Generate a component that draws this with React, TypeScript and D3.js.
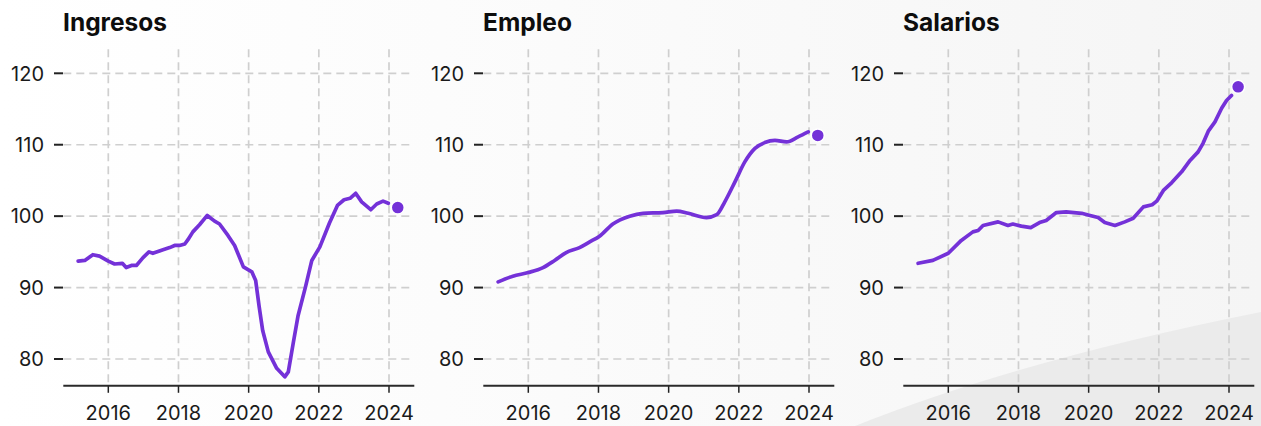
import React from "react";
import * as d3 from "d3";

const panelTitles = ["Ingresos", "Empleo", "Salarios"];
const yTicks = [80, 90, 100, 110, 120];
const xTicks = [2016, 2018, 2020, 2022, 2024];

const ingresos: [number, number][] = [
  [2015.14, 93.7], [2015.33, 93.8], [2015.56, 94.6], [2015.75, 94.4], [2016.0, 93.7],
  [2016.18, 93.3], [2016.4, 93.4], [2016.51, 92.8], [2016.66, 93.1], [2016.8, 93.1],
  [2016.99, 94.2], [2017.16, 95.0], [2017.27, 94.8], [2017.56, 95.3], [2017.75, 95.6],
  [2017.89, 95.9], [2018.03, 95.9], [2018.18, 96.1], [2018.27, 96.7], [2018.41, 97.8],
  [2018.6, 98.8], [2018.82, 100.1], [2019.03, 99.3], [2019.17, 98.9], [2019.41, 97.3],
  [2019.6, 95.9], [2019.85, 92.9], [2020.09, 92.2], [2020.2, 91.0], [2020.3, 87.3],
  [2020.4, 84.0], [2020.56, 81.0], [2020.8, 78.7], [2021.03, 77.5], [2021.13, 78.2],
  [2021.27, 82.2], [2021.41, 86.1], [2021.62, 90.1], [2021.8, 93.8], [2022.03, 95.7],
  [2022.3, 99.0], [2022.53, 101.5], [2022.72, 102.3], [2022.89, 102.5], [2023.05, 103.2],
  [2023.22, 102.0], [2023.48, 100.9], [2023.65, 101.7], [2023.83, 102.1], [2023.98, 101.8],
];

const empleo: [number, number][] = [
  [2015.14, 90.8], [2015.56, 91.6], [2016.0, 92.1], [2016.42, 92.8], [2016.75, 93.8],
  [2017.08, 94.9], [2017.46, 95.6], [2017.75, 96.4], [2018.03, 97.2], [2018.41, 98.9],
  [2018.89, 100.0], [2019.27, 100.4], [2019.84, 100.5], [2020.23, 100.7], [2020.56, 100.4],
  [2021.08, 99.8], [2021.37, 100.2], [2021.6, 102.0], [2021.89, 104.8], [2022.17, 107.6],
  [2022.46, 109.5], [2022.74, 110.3], [2023.03, 110.6], [2023.36, 110.4], [2023.69, 111.1],
  [2023.98, 111.8],
];

const salarios: [number, number][] = [
  [2015.14, 93.4], [2015.56, 93.8], [2016.0, 94.8], [2016.37, 96.6], [2016.7, 97.8],
  [2016.85, 98.0], [2016.99, 98.7], [2017.42, 99.2], [2017.7, 98.7], [2017.84, 98.9],
  [2018.08, 98.6], [2018.35, 98.4], [2018.6, 99.1], [2018.79, 99.4], [2019.08, 100.5],
  [2019.36, 100.6], [2019.8, 100.4], [2020.04, 100.1], [2020.27, 99.8], [2020.46, 99.1],
  [2020.75, 98.7], [2021.03, 99.2], [2021.27, 99.7], [2021.56, 101.3], [2021.81, 101.6],
  [2021.94, 102.1], [2022.13, 103.6], [2022.37, 104.7], [2022.65, 106.2], [2022.89, 107.8],
  [2023.12, 109.0], [2023.26, 110.2], [2023.41, 111.9], [2023.6, 113.2], [2023.79, 115.1],
  [2023.93, 116.2], [2024.07, 116.9],
];

const lastDates = [2024.25, 2024.25, 2024.26];
const lastValues = [101.2, 111.3, 118.1];

const seriesList = [ingresos, empleo, salarios];

const PURPLE = "#7431d8";
const FONT = "Inter, 'Noto Sans', sans-serif";

function Panel({ idx }: { idx: number }) {
  const x = d3.scaleLinear().domain([2016, 2024]).range([108.3, 389]);
  const y = d3.scaleLinear().domain([80, 120]).range([359, 73.3]);
  const axisLeft = 63.3;
  const axisRight = 414.3;
  const axisY = y(76.25);
  const gridTop = y(123.35);
  const line = d3
    .line<[number, number]>()
    .x((d) => x(d[0]))
    .y((d) => y(d[1]))
    .curve(idx === 1 ? d3.curveMonotoneX : d3.curveLinear);
  const data = seriesList[idx];
  return (
    <g transform={`translate(${idx * 420},0)`}>
      <text x={63} y={31} fontFamily={FONT} fontWeight={700} fontSize={24.5} fill="#0d0d0d">
        {panelTitles[idx]}
      </text>
      {yTicks.map((t) => (
        <g key={"y" + t}>
          <line x1={axisLeft} x2={axisRight} y1={y(t)} y2={y(t)} stroke="#cfcfcf" strokeWidth={1.7} strokeDasharray="8,5" />
          <line x1={54} x2={63} y1={y(t)} y2={y(t)} stroke="#222" strokeWidth={2} />
          <text x={44} y={y(t)} dy="0.36em" textAnchor="end" fontFamily={FONT} fontSize={20} fill="#1a1a1a">
            {t}
          </text>
        </g>
      ))}
      {xTicks.map((t) => (
        <g key={"x" + t}>
          <line x1={x(t)} x2={x(t)} y1={gridTop} y2={axisY} stroke="#cfcfcf" strokeWidth={1.7} strokeDasharray="8,5" />
          <line x1={x(t)} x2={x(t)} y1={axisY} y2={axisY + 7} stroke="#222" strokeWidth={1.5} />
          <text x={x(t)} y={420} textAnchor="middle" fontFamily={FONT} fontSize={20} fill="#1a1a1a">
            {t}
          </text>
        </g>
      ))}
      <line x1={axisLeft} x2={axisRight} y1={axisY} y2={axisY} stroke="#2a2a2a" strokeWidth={2} />
      <path d={line(data) || ""} fill="none" stroke={PURPLE} strokeWidth={3.7} strokeLinejoin="round" strokeLinecap="round" />
      <circle cx={x(lastDates[idx])} cy={y(lastValues[idx])} r={6.5} fill={PURPLE} stroke="#fff" strokeWidth={1.5} />
    </g>
  );
}

export default function App() {
  const W = 1261;
  const H = 426;
  return (
    <svg width={W} height={H} style={{ position: "absolute", left: 0, top: 0, display: "block" }}>
      <defs>
        <linearGradient id="bg" x1="0" x2="1" y1="0" y2="0">
          <stop offset="0" stopColor="#ffffff" />
          <stop offset="0.35" stopColor="#fcfcfc" />
          <stop offset="1" stopColor="#f5f5f5" />
        </linearGradient>
      </defs>
      <rect width={W} height={H} fill="url(#bg)" />
      <path d="M855,426 Q1020,360 1261,312 L1261,426 Z" fill="#ebebeb" />
      {[0, 1, 2].map((i) => (
        <Panel key={i} idx={i} />
      ))}
    </svg>
  );
}
